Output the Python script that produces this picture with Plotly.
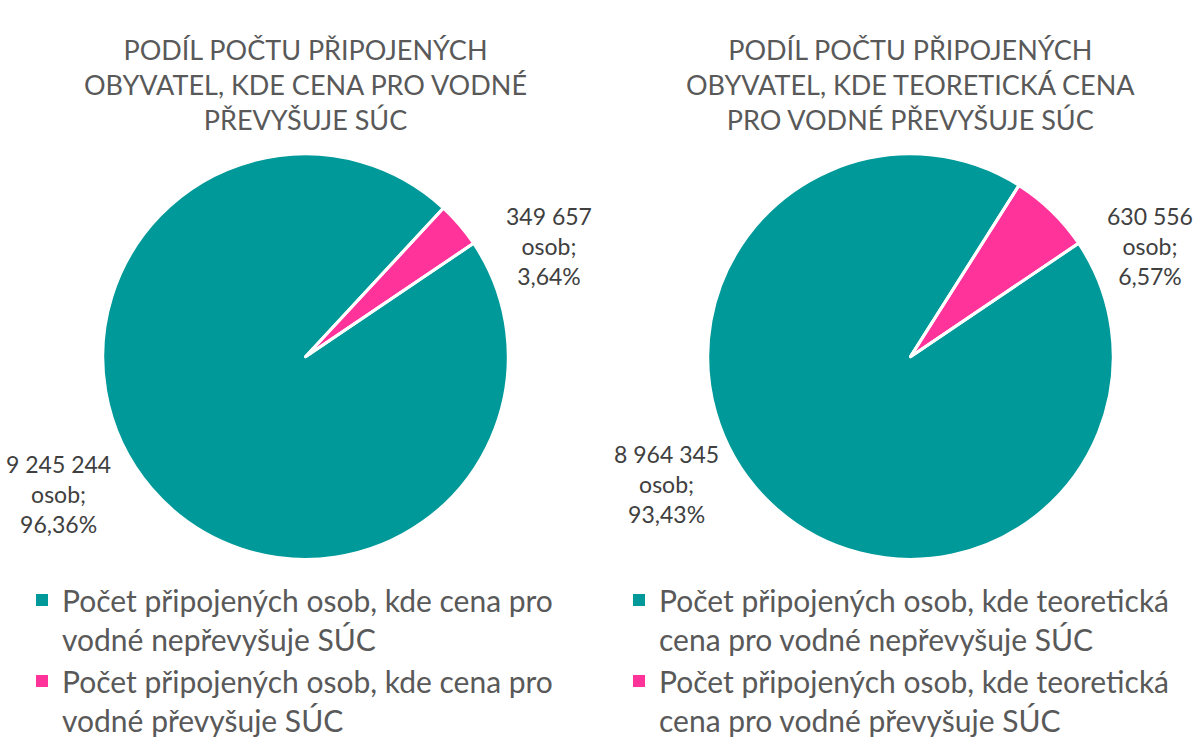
import plotly.graph_objects as go

# Data
left_labels = ["Počet připojených osob, kde cena pro<br>vodné nepřevyšuje SÚC",
               "Počet připojených osob, kde cena pro<br>vodné převyšuje SÚC"]
left_values = [9245244, 349657]
left_pct = ["96,36%", "3,64%"]
left_title = "PODÍL POČTU PŘIPOJENÝCH<br>OBYVATEL, KDE CENA PRO VODNÉ<br>PŘEVYŠUJE SÚC"

right_labels = ["Počet připojených osob, kde teoretická<br>cena pro vodné nepřevyšuje SÚC",
                "Počet připojených osob, kde teoretická<br>cena pro vodné převyšuje SÚC"]
right_values = [8964345, 630556]
right_pct = ["93,43%", "6,57%"]
right_title = "PODÍL POČTU PŘIPOJENÝCH<br>OBYVATEL, KDE TEORETICKÁ CENA<br>PRO VODNÉ PŘEVYŠUJE SÚC"

colors = ["#009999", "#FF3399"]
FONT = "Lato"
W, H = 1203, 746


def fmt(v):
    return f"{v:,}".replace(",", " ")


def px(x, y):
    return x / W, 1 - y / H


fig = go.Figure()
domains = [dict(x=[100 / W, 511 / W], y=[1 - 567 / H, 1 - 156 / H]),
           dict(x=[705 / W, 1116 / W], y=[1 - 567 / H, 1 - 156 / H])]
for labels, values, dom, leg in [(left_labels, left_values, domains[0], "legend"),
                                 (right_labels, right_values, domains[1], "legend2")]:
    fig.add_trace(go.Pie(
        labels=labels, values=values, sort=False, direction="clockwise",
        rotation=56, marker=dict(colors=colors, line=dict(width=0)),
        textinfo="none", domain=dom, legend=leg,
        hoverinfo="label+value+percent"))
    # white slice separators
    fig.add_trace(go.Pie(
        labels=labels, values=values, sort=False, direction="clockwise",
        rotation=56, marker=dict(colors=["rgba(0,0,0,0)"] * len(values),
                                 line=dict(color="white", width=3)),
        textinfo="none", domain=dom, showlegend=False, hoverinfo="skip"))

annotations = []
# titles
for t, cx in [(left_title, 305), (right_title, 910)]:
    x, y = px(cx, 86)
    annotations.append(dict(text=t, x=x, y=y, xref="paper", yref="paper",
                            xanchor="center", yanchor="middle", showarrow=False,
                            align="center", font=dict(family=FONT, size=27, color="#595959")))
# data labels
label_pos = [
    (left_values, left_pct, [(58, 501), (549, 249)]),
    (right_values, right_pct, [(666, 491), (1150, 249)]),
]
for vals, pcts, poss in label_pos:
    for v, p, (lx, ly) in zip(vals, pcts, poss):
        x, y = px(lx, ly)
        annotations.append(dict(text=f"{fmt(v)}<br>osob;<br>{p}", x=x, y=y,
                                xref="paper", yref="paper", xanchor="center",
                                yanchor="middle", showarrow=False, align="center",
                                font=dict(family=FONT, size=23, color="#404040")))

lx1, ly1 = px(22, 582)
lx2, ly2 = px(619, 582)
legend_common = dict(font=dict(family=FONT, size=30, color="#595959"),
                     xanchor="left", yanchor="top", bgcolor="rgba(0,0,0,0)",
                     orientation="v", valign="top",
                     itemclick=False, itemdoubleclick=False)

fig.update_layout(
    width=W, height=H, margin=dict(l=0, r=0, t=0, b=0),
    paper_bgcolor="white", plot_bgcolor="white",
    annotations=annotations,
    legend=dict(x=lx1, y=ly1, **legend_common),
    legend2=dict(x=lx2, y=ly2, **legend_common),
    showlegend=True,
)
fig.write_html("out.html", config={"displayModeBar": False},
               post_script="document.body.style.margin='0px';")
